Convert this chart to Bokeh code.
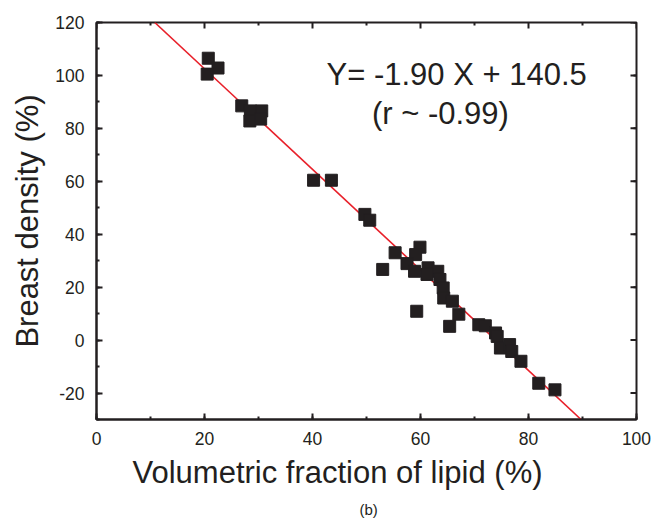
import numpy as np
from bokeh.plotting import figure
from bokeh.models import (ColumnDataSource, SingleIntervalTicker, Label, Title, Range1d,
                          PrintfTickFormatter)
from bokeh.embed import file_html
from bokeh.resources import INLINE

# Data
lipid_fraction = [20.7, 22.5, 20.5, 26.9, 28.5, 30.6, 28.4, 30.4, 40.2, 43.5,
                  49.7, 50.6, 55.3, 53.0, 59.9, 59.1, 57.5, 58.9, 61.4, 63.2,
                  61.2, 63.6, 64.2, 64.3, 65.9, 59.3, 67.1, 65.4, 70.8, 72.0,
                  73.9, 74.2, 74.8, 76.5, 76.9, 78.6, 81.9, 84.9]
breast_density = [106.5, 102.8, 100.5, 88.5, 86.6, 86.6, 82.8, 83.5, 60.4, 60.4,
                  47.5, 45.3, 33.0, 26.7, 35.1, 32.3, 28.9, 26.0, 27.3, 26.0,
                  24.8, 22.9, 19.7, 15.9, 14.7, 10.9, 9.8, 5.2, 5.8, 5.4,
                  2.7, 1.4, -3.0, -1.7, -4.3, -8.0, -16.3, -18.8]
fit_slope = -1.90
fit_intercept = 140.5
x_label = "Volumetric fraction of lipid (%)"
y_label = "Breast density (%)"
panel_tag = "(b)"
fit_text = "Y= -1.90 X + 140.5"
r_text = "(r ~ -0.99)"
x_tick_step = 20
y_tick_step = 20

FONT = "Liberation Sans"
DARK = "#231f20"

x_min, x_max = 0, 100
y_min, y_max = -30, 120

p = figure(width=657, height=523, output_backend="svg", toolbar_location=None,
           x_range=Range1d(x_min, x_max), y_range=Range1d(y_min, y_max),
           min_border_left=96, min_border_right=21, min_border_top=22, min_border_bottom=104,
           y_axis_label=y_label)
p.grid.visible = False
p.background_fill_color = "white"
p.border_fill_color = "white"
p.outline_line_color = DARK
p.outline_line_width = 2

# fit line across the plotting window
x0 = (y_max - fit_intercept) / fit_slope
x1 = (y_min - fit_intercept) / fit_slope
p.line([x0, x1], [fit_slope * x0 + fit_intercept, fit_slope * x1 + fit_intercept],
       line_color="#e8202a", line_width=1.6)

src = ColumnDataSource(dict(x=lipid_fraction, y=breast_density))
p.scatter("x", "y", source=src, marker="square", size=12, fill_color=DARK, line_color=DARK)

def style_axis(ax, step):
    ax.ticker = SingleIntervalTicker(interval=step, num_minor_ticks=2)
    ax.formatter = PrintfTickFormatter(format="%d")
    ax.axis_line_color = DARK
    ax.axis_line_width = 2
    ax.major_tick_line_color = DARK
    ax.minor_tick_line_color = DARK
    ax.major_tick_line_width = 2
    ax.minor_tick_line_width = 2
    ax.major_tick_in = 6
    ax.major_tick_out = 0
    ax.minor_tick_in = 3
    ax.minor_tick_out = 0
    ax.major_label_text_font = FONT
    ax.major_label_text_font_size = "17.5px"
    ax.major_label_text_color = DARK
    ax.axis_label_text_font = FONT
    ax.axis_label_text_font_size = "31px"
    ax.axis_label_text_font_style = "normal"
    ax.axis_label_text_color = DARK

style_axis(p.xaxis[0], x_tick_step)
style_axis(p.yaxis[0], y_tick_step)
p.xaxis[0].major_label_standoff = 12
p.yaxis[0].major_label_standoff = 12
p.yaxis[0].axis_label_standoff = 7

# mirrored inward ticks on the top and right frame edges
top_major = np.arange(x_min, x_max + 1, x_tick_step)
top_minor = top_major[:-1] + x_tick_step / 2
right_major = np.arange(-20, y_max + 1, y_tick_step)
right_minor = np.arange(y_min, y_max, y_tick_step) + y_tick_step / 2
p.scatter(top_major, [y_max] * len(top_major), marker="dash", angle=np.pi / 2, size=12,
          line_color=DARK, line_width=2)
p.scatter(top_minor, [y_max] * len(top_minor), marker="dash", angle=np.pi / 2, size=6,
          line_color=DARK, line_width=2)
p.scatter([x_max] * len(right_major), right_major, marker="dash", size=12,
          line_color=DARK, line_width=2)
p.scatter([x_max] * len(right_minor), right_minor, marker="dash", size=6,
          line_color=DARK, line_width=2)

p.add_layout(Title(text=x_label, align="left", offset=36, text_font=FONT, text_font_size="31px",
                   text_font_style="normal", text_color=DARK, standoff=10), "below")
p.add_layout(Title(text=panel_tag, align="left", offset=263, text_font=FONT, text_font_size="15px",
                   text_font_style="normal", text_color=DARK, standoff=9), "below")

p.add_layout(Label(x=42.6, y=100.3, text=fit_text, text_font=FONT,
                   text_font_size="31px", text_color=DARK, text_baseline="middle"))
p.add_layout(Label(x=51.0, y=85.6, text=r_text, text_font=FONT,
                   text_font_size="31px", text_color=DARK, text_baseline="middle"))

open("out.html", "w").write(file_html(p, INLINE))
